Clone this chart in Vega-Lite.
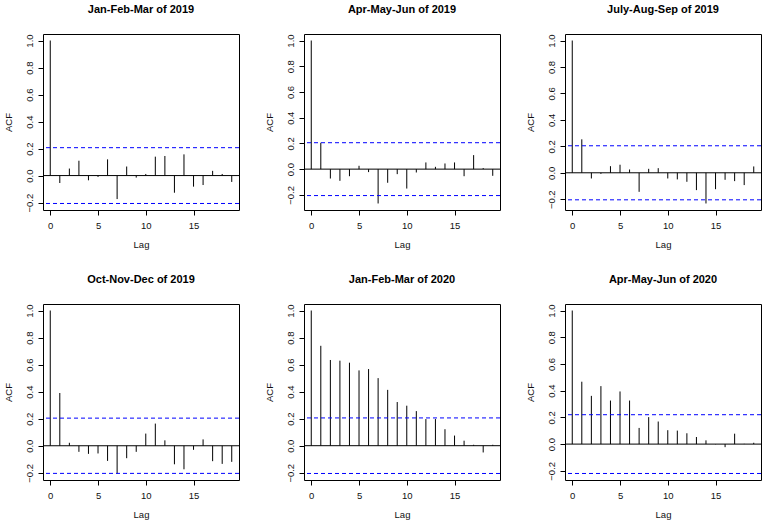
{
  "$schema": "https://vega.github.io/schema/vega-lite/v6.json",
  "padding": {"left": 2, "top": 3, "right": 0, "bottom": 0},
  "background": "white",
  "columns": 3,
  "spacing": {"row": 94, "column": 65},
  "bounds": "flush",
  "resolve": {"scale": {"x": "independent", "y": "independent"}},
  "config": {
    "view": {"stroke": "black", "strokeWidth": 1, "continuousWidth": 196, "continuousHeight": 176},
    "font": "Liberation Sans",
    "title": {"font": "Liberation Sans", "fontSize": 11, "fontWeight": "bold", "color": "black", "anchor": "middle", "offset": 19},
    "axis": {
      "domain": false, "grid": false, "tickColor": "black", "tickSize": 5, "tickWidth": 1, "tickCount": 12,
      "labelFont": "Liberation Sans", "labelFontSize": 9.5, "labelColor": "#111",
      "titleFont": "Liberation Sans", "titleFontSize": 9.5, "titleFontWeight": "normal", "titleColor": "#111",
      "labelFlush": false, "labelOverlap": false
    },
    "axisX": {"labelPadding": 5, "titlePadding": 10},
    "axisY": {"labelAngle": -90, "labelPadding": 4, "titlePadding": 11}
  },
  "concat": [
    {
      "width": 196, "height": 176,
      "title": "Jan-Feb-Mar of 2019",
      "data": {"values": [
        {"lag": 0, "acf": 1.0}, {"lag": 1, "acf": -0.055}, {"lag": 2, "acf": 0.052}, {"lag": 3, "acf": 0.11},
        {"lag": 4, "acf": -0.035}, {"lag": 5, "acf": -0.01}, {"lag": 6, "acf": 0.12}, {"lag": 7, "acf": -0.174},
        {"lag": 8, "acf": 0.067}, {"lag": 9, "acf": -0.015}, {"lag": 10, "acf": 0.012}, {"lag": 11, "acf": 0.14},
        {"lag": 12, "acf": 0.145}, {"lag": 13, "acf": -0.127}, {"lag": 14, "acf": 0.157}, {"lag": 15, "acf": -0.082},
        {"lag": 16, "acf": -0.07}, {"lag": 17, "acf": 0.035}, {"lag": 18, "acf": 0.012}, {"lag": 19, "acf": -0.047}
      ]},
      "layer": [
        {"mark": {"type": "rule", "color": "black", "strokeWidth": 1},
         "encoding": {
           "x": {"field": "lag", "type": "quantitative", "scale": {"domain": [-0.76, 19.76], "nice": false, "zero": false}, "axis": {"values": [0, 5, 10, 15], "title": "Lag", "tickCount": 12}},
           "y": {"field": "acf", "type": "quantitative", "scale": {"domain": [-0.2549, 1.0483], "nice": false, "zero": false}, "axis": {"values": [-0.2, 0, 0.2, 0.4, 0.6, 0.8, 1.0], "format": ".1f", "title": "ACF", "tickCount": 12}},
           "y2": {"datum": 0}}},
        {"data": {"values": [{"z": 0}]}, "mark": {"type": "rule", "color": "black", "strokeWidth": 1}, "encoding": {"y": {"field": "z", "type": "quantitative"}}},
        {"data": {"values": [{"ci": 0.2066}, {"ci": -0.2066}]}, "mark": {"type": "rule", "color": "#0000ff", "strokeWidth": 1, "strokeDash": [4, 3]}, "encoding": {"y": {"field": "ci", "type": "quantitative"}}}
      ]
    },
    {
      "width": 196, "height": 176,
      "title": "Apr-May-Jun of 2019",
      "data": {"values": [
        {"lag": 0, "acf": 1.0}, {"lag": 1, "acf": 0.205}, {"lag": 2, "acf": -0.073}, {"lag": 3, "acf": -0.091},
        {"lag": 4, "acf": -0.055}, {"lag": 5, "acf": 0.026}, {"lag": 6, "acf": -0.023}, {"lag": 7, "acf": -0.267},
        {"lag": 8, "acf": -0.106}, {"lag": 9, "acf": -0.039}, {"lag": 10, "acf": -0.151}, {"lag": 11, "acf": -0.026},
        {"lag": 12, "acf": 0.052}, {"lag": 13, "acf": 0.018}, {"lag": 14, "acf": 0.044}, {"lag": 15, "acf": 0.052},
        {"lag": 16, "acf": -0.055}, {"lag": 17, "acf": 0.109}, {"lag": 18, "acf": 0.008}, {"lag": 19, "acf": -0.052}
      ]},
      "layer": [
        {"mark": {"type": "rule", "color": "black", "strokeWidth": 1},
         "encoding": {
           "x": {"field": "lag", "type": "quantitative", "scale": {"domain": [-0.76, 19.76], "nice": false, "zero": false}, "axis": {"values": [0, 5, 10, 15], "title": "Lag", "tickCount": 12}},
           "y": {"field": "acf", "type": "quantitative", "scale": {"domain": [-0.3177, 1.0507], "nice": false, "zero": false}, "axis": {"values": [-0.2, 0, 0.2, 0.4, 0.6, 0.8, 1.0], "format": ".1f", "title": "ACF", "tickCount": 12}},
           "y2": {"datum": 0}}},
        {"data": {"values": [{"z": 0}]}, "mark": {"type": "rule", "color": "black", "strokeWidth": 1}, "encoding": {"y": {"field": "z", "type": "quantitative"}}},
        {"data": {"values": [{"ci": 0.2055}, {"ci": -0.2055}]}, "mark": {"type": "rule", "color": "#0000ff", "strokeWidth": 1, "strokeDash": [4, 3]}, "encoding": {"y": {"field": "ci", "type": "quantitative"}}}
      ]
    },
    {
      "width": 196, "height": 176,
      "title": "July-Aug-Sep of 2019",
      "data": {"values": [
        {"lag": 0, "acf": 1.0}, {"lag": 1, "acf": 0.253}, {"lag": 2, "acf": -0.043}, {"lag": 3, "acf": -0.008},
        {"lag": 4, "acf": 0.05}, {"lag": 5, "acf": 0.061}, {"lag": 6, "acf": 0.025}, {"lag": 7, "acf": -0.144},
        {"lag": 8, "acf": 0.03}, {"lag": 9, "acf": 0.035}, {"lag": 10, "acf": -0.043}, {"lag": 11, "acf": -0.05},
        {"lag": 12, "acf": -0.068}, {"lag": 13, "acf": -0.131}, {"lag": 14, "acf": -0.232}, {"lag": 15, "acf": -0.124},
        {"lag": 16, "acf": -0.053}, {"lag": 17, "acf": -0.063}, {"lag": 18, "acf": -0.093}, {"lag": 19, "acf": 0.048}
      ]},
      "layer": [
        {"mark": {"type": "rule", "color": "black", "strokeWidth": 1},
         "encoding": {
           "x": {"field": "lag", "type": "quantitative", "scale": {"domain": [-0.76, 19.76], "nice": false, "zero": false}, "axis": {"values": [0, 5, 10, 15], "title": "Lag", "tickCount": 12}},
           "y": {"field": "acf", "type": "quantitative", "scale": {"domain": [-0.2813, 1.0493], "nice": false, "zero": false}, "axis": {"values": [-0.2, 0, 0.2, 0.4, 0.6, 0.8, 1.0], "format": ".1f", "title": "ACF", "tickCount": 12}},
           "y2": {"datum": 0}}},
        {"data": {"values": [{"z": 0}]}, "mark": {"type": "rule", "color": "black", "strokeWidth": 1}, "encoding": {"y": {"field": "z", "type": "quantitative"}}},
        {"data": {"values": [{"ci": 0.2043}, {"ci": -0.2043}]}, "mark": {"type": "rule", "color": "#0000ff", "strokeWidth": 1, "strokeDash": [4, 3]}, "encoding": {"y": {"field": "ci", "type": "quantitative"}}}
      ]
    },
    {
      "width": 196, "height": 176,
      "title": "Oct-Nov-Dec of 2019",
      "data": {"values": [
        {"lag": 0, "acf": 1.0}, {"lag": 1, "acf": 0.39}, {"lag": 2, "acf": 0.022}, {"lag": 3, "acf": -0.045},
        {"lag": 4, "acf": -0.06}, {"lag": 5, "acf": -0.057}, {"lag": 6, "acf": -0.112}, {"lag": 7, "acf": -0.205},
        {"lag": 8, "acf": -0.092}, {"lag": 9, "acf": -0.045}, {"lag": 10, "acf": 0.09}, {"lag": 11, "acf": 0.164},
        {"lag": 12, "acf": 0.04}, {"lag": 13, "acf": -0.137}, {"lag": 14, "acf": -0.174}, {"lag": 15, "acf": -0.03},
        {"lag": 16, "acf": 0.047}, {"lag": 17, "acf": -0.114}, {"lag": 18, "acf": -0.134}, {"lag": 19, "acf": -0.119}
      ]},
      "layer": [
        {"mark": {"type": "rule", "color": "black", "strokeWidth": 1},
         "encoding": {
           "x": {"field": "lag", "type": "quantitative", "scale": {"domain": [-0.76, 19.76], "nice": false, "zero": false}, "axis": {"values": [0, 5, 10, 15], "title": "Lag", "tickCount": 12}},
           "y": {"field": "acf", "type": "quantitative", "scale": {"domain": [-0.2532, 1.0482], "nice": false, "zero": false}, "axis": {"values": [-0.2, 0, 0.2, 0.4, 0.6, 0.8, 1.0], "format": ".1f", "title": "ACF", "tickCount": 12}},
           "y2": {"datum": 0}}},
        {"data": {"values": [{"z": 0}]}, "mark": {"type": "rule", "color": "black", "strokeWidth": 1}, "encoding": {"y": {"field": "z", "type": "quantitative"}}},
        {"data": {"values": [{"ci": 0.2043}, {"ci": -0.2043}]}, "mark": {"type": "rule", "color": "#0000ff", "strokeWidth": 1, "strokeDash": [4, 3]}, "encoding": {"y": {"field": "ci", "type": "quantitative"}}}
      ]
    },
    {
      "width": 196, "height": 176,
      "title": "Jan-Feb-Mar of 2020",
      "data": {"values": [
        {"lag": 0, "acf": 1.0}, {"lag": 1, "acf": 0.739}, {"lag": 2, "acf": 0.634}, {"lag": 3, "acf": 0.629},
        {"lag": 4, "acf": 0.614}, {"lag": 5, "acf": 0.557}, {"lag": 6, "acf": 0.567}, {"lag": 7, "acf": 0.5},
        {"lag": 8, "acf": 0.413}, {"lag": 9, "acf": 0.323}, {"lag": 10, "acf": 0.296}, {"lag": 11, "acf": 0.256},
        {"lag": 12, "acf": 0.197}, {"lag": 13, "acf": 0.197}, {"lag": 14, "acf": 0.122}, {"lag": 15, "acf": 0.075},
        {"lag": 16, "acf": 0.037}, {"lag": 17, "acf": 0.007}, {"lag": 18, "acf": -0.05}, {"lag": 19, "acf": 0.007}
      ]},
      "layer": [
        {"mark": {"type": "rule", "color": "black", "strokeWidth": 1},
         "encoding": {
           "x": {"field": "lag", "type": "quantitative", "scale": {"domain": [-0.76, 19.76], "nice": false, "zero": false}, "axis": {"values": [0, 5, 10, 15], "title": "Lag", "tickCount": 12}},
           "y": {"field": "acf", "type": "quantitative", "scale": {"domain": [-0.2537, 1.0482], "nice": false, "zero": false}, "axis": {"values": [-0.2, 0, 0.2, 0.4, 0.6, 0.8, 1.0], "format": ".1f", "title": "ACF", "tickCount": 12}},
           "y2": {"datum": 0}}},
        {"data": {"values": [{"z": 0}]}, "mark": {"type": "rule", "color": "black", "strokeWidth": 1}, "encoding": {"y": {"field": "z", "type": "quantitative"}}},
        {"data": {"values": [{"ci": 0.2055}, {"ci": -0.2055}]}, "mark": {"type": "rule", "color": "#0000ff", "strokeWidth": 1, "strokeDash": [4, 3]}, "encoding": {"y": {"field": "ci", "type": "quantitative"}}}
      ]
    },
    {
      "width": 196, "height": 176,
      "title": "Apr-May-Jun of 2020",
      "data": {"values": [
        {"lag": 0, "acf": 1.0}, {"lag": 1, "acf": 0.467}, {"lag": 2, "acf": 0.361}, {"lag": 3, "acf": 0.434},
        {"lag": 4, "acf": 0.326}, {"lag": 5, "acf": 0.394}, {"lag": 6, "acf": 0.326}, {"lag": 7, "acf": 0.121},
        {"lag": 8, "acf": 0.202}, {"lag": 9, "acf": 0.169}, {"lag": 10, "acf": 0.104}, {"lag": 11, "acf": 0.101},
        {"lag": 12, "acf": 0.081}, {"lag": 13, "acf": 0.053}, {"lag": 14, "acf": 0.028}, {"lag": 15, "acf": -0.002},
        {"lag": 16, "acf": -0.023}, {"lag": 17, "acf": 0.078}, {"lag": 18, "acf": 0.002}, {"lag": 19, "acf": 0.01}
      ]},
      "layer": [
        {"mark": {"type": "rule", "color": "black", "strokeWidth": 1},
         "encoding": {
           "x": {"field": "lag", "type": "quantitative", "scale": {"domain": [-0.76, 19.76], "nice": false, "zero": false}, "axis": {"values": [0, 5, 10, 15], "title": "Lag", "tickCount": 12}},
           "y": {"field": "acf", "type": "quantitative", "scale": {"domain": [-0.2688, 1.0488], "nice": false, "zero": false}, "axis": {"values": [-0.2, 0, 0.2, 0.4, 0.6, 0.8, 1.0], "format": ".1f", "title": "ACF", "tickCount": 12}},
           "y2": {"datum": 0}}},
        {"data": {"values": [{"z": 0}]}, "mark": {"type": "rule", "color": "black", "strokeWidth": 1}, "encoding": {"y": {"field": "z", "type": "quantitative"}}},
        {"data": {"values": [{"ci": 0.22}, {"ci": -0.22}]}, "mark": {"type": "rule", "color": "#0000ff", "strokeWidth": 1, "strokeDash": [4, 3]}, "encoding": {"y": {"field": "ci", "type": "quantitative"}}}
      ]
    }
  ]
}
